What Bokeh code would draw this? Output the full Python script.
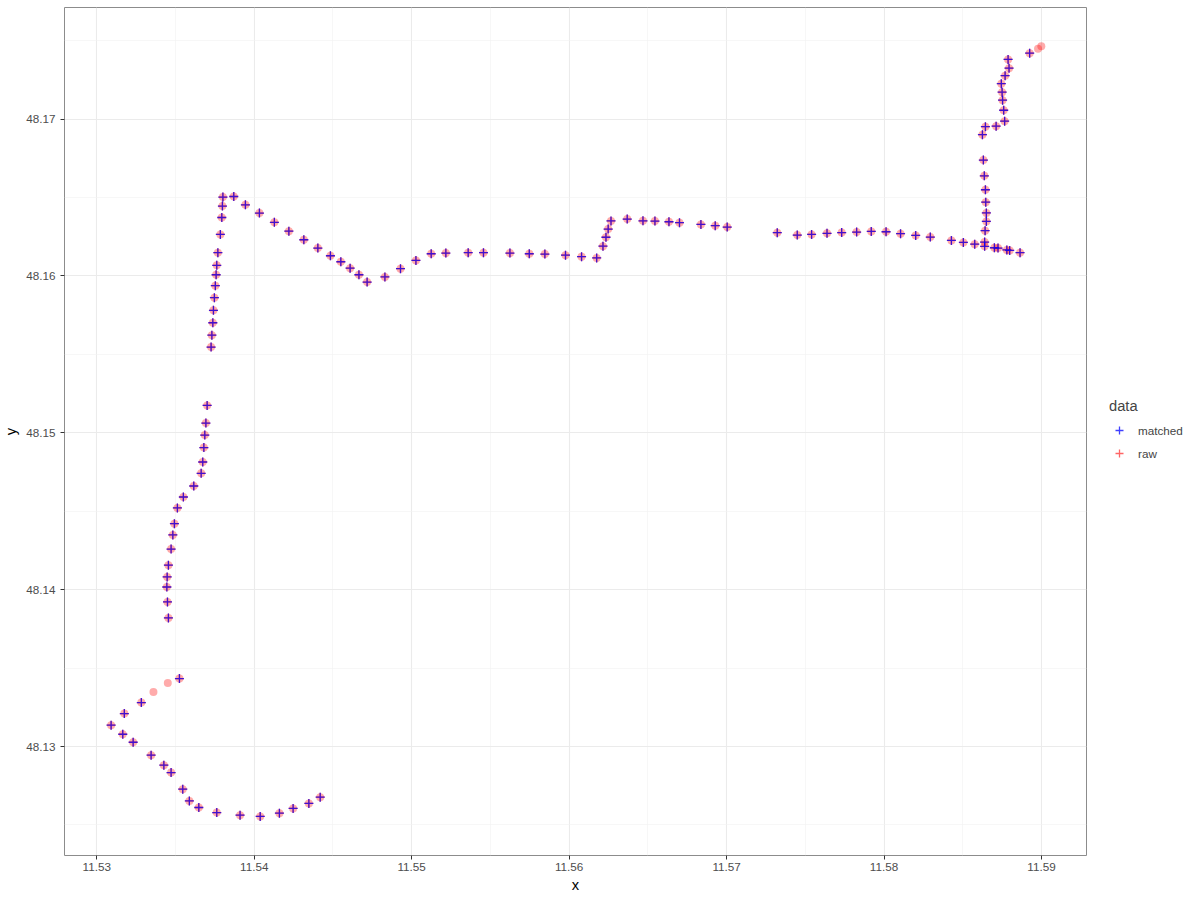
from bokeh.plotting import figure
from bokeh.models import (ColumnDataSource, FixedTicker, Legend, LegendItem, Range1d)
from bokeh.embed import file_html
from bokeh.resources import INLINE

# ---- data ----
matched_x = [11.54419, 11.54347, 11.54247, 11.54160, 11.54038, 11.53910, 11.53762, 11.53648,
             11.53588, 11.53546, 11.53472, 11.53426, 11.53345, 11.53231, 11.53165, 11.53091,
             11.53175, 11.53283, 11.53525,
             11.53455, 11.53449, 11.53445, 11.53447, 11.53455, 11.53472, 11.53483, 11.53493,
             11.53512, 11.53550, 11.53616, 11.53663, 11.53673, 11.53680, 11.53686, 11.53693,
             11.53701,
             11.53726, 11.53731, 11.53737, 11.53741, 11.53747, 11.53753, 11.53758, 11.53762,
             11.53769, 11.53785, 11.53794, 11.53798, 11.53801,
             11.53870, 11.53944, 11.54033, 11.54128, 11.54220, 11.54315, 11.54404, 11.54484,
             11.54550, 11.54609, 11.54665, 11.54717,
             11.54830, 11.54929, 11.55027, 11.55124, 11.55217, 11.55359, 11.55456, 11.55624,
             11.55747, 11.55846, 11.55977, 11.56079, 11.56175,
             11.56215, 11.56234, 11.56248, 11.56266,
             11.56369, 11.56469, 11.56545, 11.56634, 11.56701, 11.56837, 11.56928, 11.57004,
             11.57322, 11.57449, 11.57540, 11.57638, 11.57731, 11.57826, 11.57919, 11.58013,
             11.58105, 11.58201, 11.58294, 11.58428, 11.58504, 11.58576, 11.58639, 11.58639,
             11.58642, 11.58650, 11.58650, 11.58646, 11.58644, 11.58637, 11.58631, 11.58625,
             11.58644, 11.58712, 11.58766, 11.58760, 11.58753, 11.58750, 11.58745, 11.58769,
             11.58794, 11.58788, 11.58925,
             11.58701, 11.58724, 11.58780, 11.58798, 11.58864]
matched_y = [48.12677, 48.12637, 48.12605, 48.12575, 48.12554, 48.12562, 48.12579, 48.12611,
             48.12653, 48.12728, 48.12834, 48.12881, 48.12945, 48.13027, 48.13078, 48.13136,
             48.13210, 48.13280, 48.13433,
             48.13820, 48.13922, 48.14017, 48.14081, 48.14156, 48.14259, 48.14349, 48.14421,
             48.14521, 48.14591, 48.14661, 48.14742, 48.14814, 48.14906, 48.14986, 48.15062,
             48.15175,
             48.15547, 48.15623, 48.15702, 48.15781, 48.15862, 48.15938, 48.16008, 48.16068,
             48.16149, 48.16265, 48.16373, 48.16446, 48.16503,
             48.16507, 48.16454, 48.16401, 48.16342, 48.16286, 48.16231, 48.16178, 48.16129,
             48.16091, 48.16050, 48.16008, 48.15961,
             48.15994, 48.16047, 48.16099, 48.16142, 48.16146, 48.16149, 48.16149, 48.16146,
             48.16142, 48.16140, 48.16133, 48.16123, 48.16115,
             48.16190, 48.16247, 48.16299, 48.16351,
             48.16363, 48.16352, 48.16350, 48.16346, 48.16340, 48.16329, 48.16321, 48.16312,
             48.16276, 48.16261, 48.16265, 48.16272, 48.16277, 48.16280, 48.16284, 48.16282,
             48.16270, 48.16259, 48.16248, 48.16227, 48.16214, 48.16203, 48.16189, 48.16216,
             48.16289, 48.16348, 48.16402, 48.16471, 48.16550, 48.16639, 48.16739, 48.16901,
             48.16952, 48.16955, 48.16987, 48.17057, 48.17121, 48.17172, 48.17226, 48.17277,
             48.17325, 48.17381, 48.17421,
             48.16180, 48.16178, 48.16166, 48.16163, 48.16149]

raw_x = list(matched_x)
raw_y = list(matched_y)

# raw points that have no matched counterpart
unmatched_x = [11.53360, 11.53451, 11.58978, 11.58999]
unmatched_y = [48.13348, 48.13405, 48.17449, 48.17465]

x_ticks = [11.53, 11.54, 11.55, 11.56, 11.57, 11.58, 11.59]
y_ticks = [48.13, 48.14, 48.15, 48.16, 48.17]

FONT = "Liberation Sans"
FRAME_W, FRAME_H = 1022, 848

p = figure(frame_width=FRAME_W, frame_height=FRAME_H, output_backend="svg", toolbar_location=None,
           x_range=Range1d(11.52795, 11.59286), y_range=Range1d(48.12305, 48.17712),
           min_border_left=55, min_border_top=7, min_border_bottom=10, min_border_right=107,
           background_fill_color="white", border_fill_color="white")

p.outline_line_color = "#8c8c8c"
p.outline_line_width = 1

p.xaxis.ticker = FixedTicker(ticks=x_ticks, minor_ticks=[v + 0.005 for v in [11.52] + x_ticks])
p.yaxis.ticker = FixedTicker(ticks=y_ticks, minor_ticks=[v + 0.005 for v in [48.12] + y_ticks])
p.xaxis.major_label_overrides = {v: f"{v:.2f}" for v in x_ticks}
p.yaxis.major_label_overrides = {v: f"{v:.2f}" for v in y_ticks}

for ax in (p.xaxis[0], p.yaxis[0]):
    ax.axis_line_color = None
    ax.major_tick_in = 0
    ax.major_tick_out = 4
    ax.major_tick_line_color = "#333333"
    ax.minor_tick_line_color = None
    ax.major_label_text_font = FONT
    ax.major_label_text_font_size = "11.7px"
    ax.major_label_text_color = "#4d4d4d"
    ax.axis_label_text_font = FONT
    ax.axis_label_text_font_size = "14.7px"
    ax.axis_label_text_font_style = "normal"
    ax.axis_label_text_color = "black"

p.xaxis.axis_label = "x"
p.yaxis.axis_label = "y"
p.xaxis.major_label_standoff = 3
p.xaxis.axis_label_standoff = 3
p.yaxis.major_label_standoff = 5
p.yaxis.axis_label_standoff = 4

p.xgrid.grid_line_color = "#ebebeb"
p.ygrid.grid_line_color = "#ebebeb"
p.xgrid.grid_line_width = 1.1
p.ygrid.grid_line_width = 1.1
p.xgrid.minor_grid_line_color = "#f2f2f2"
p.ygrid.minor_grid_line_color = "#f2f2f2"
p.xgrid.minor_grid_line_width = 0.6
p.ygrid.minor_grid_line_width = 0.6

# pink halo for every raw point
p.scatter(x=raw_x + unmatched_x, y=raw_y + unmatched_y, marker="circle", size=8,
          fill_color="red", fill_alpha=0.33, line_color=None)

raw_src = ColumnDataSource(dict(x=raw_x, y=raw_y))
m_src = ColumnDataSource(dict(x=matched_x, y=matched_y))
r_raw = p.scatter("x", "y", source=raw_src, marker="cross", size=9, line_color="red",
                  line_alpha=0.6, line_width=1.3)
r_m = p.scatter("x", "y", source=m_src, marker="cross", size=9, line_color="blue",
                line_alpha=0.75, line_width=1.3)

legend = Legend(items=[LegendItem(label="matched", renderers=[r_m]),
                       LegendItem(label="raw", renderers=[r_raw])],
                location=(23, 392))
legend.title = "data"
legend.title_text_font = FONT
legend.title_text_font_size = "14.7px"
legend.title_text_font_style = "normal"
legend.title_standoff = 6
legend.label_text_font = FONT
legend.label_text_font_size = "11.7px"
legend.border_line_color = None
legend.background_fill_alpha = 0
legend.glyph_width = 20
legend.glyph_height = 20
legend.label_height = 20
legend.spacing = 3
legend.label_standoff = 9
legend.padding = 4
legend.margin = 0
p.add_layout(legend, "right")

html = file_html(p, INLINE)
open("out.html", "w").write(html)
